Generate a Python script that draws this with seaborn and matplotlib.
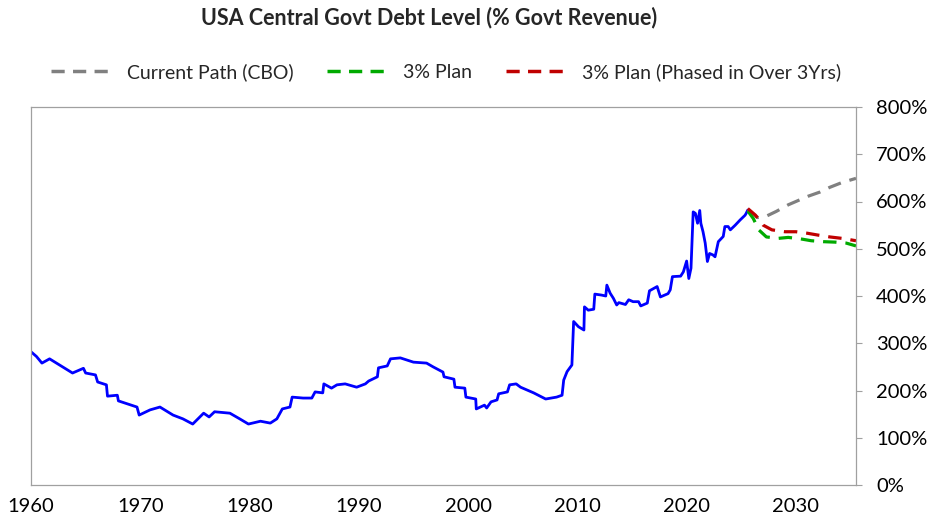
import matplotlib
matplotlib.use("Agg")
import matplotlib.pyplot as plt
from matplotlib.lines import Line2D
from matplotlib.ticker import FuncFormatter
import seaborn as sns

# Historical debt level, % of government revenue (fractional years)
hist_year = [1960.0, 1960.5, 1961.0, 1961.7, 1962.9, 1963.8, 1964.8, 1965.0, 1965.9, 1966.1,
             1966.9, 1967.0, 1967.9, 1968.0, 1969.7, 1969.9, 1970.9, 1971.8, 1973.0, 1973.9,
             1974.8, 1975.8, 1976.3, 1976.8, 1978.2, 1979.1, 1979.9, 1981.0, 1981.9, 1982.5,
             1983.0, 1983.7, 1983.9, 1984.9, 1985.7, 1986.0, 1986.7, 1986.8, 1987.5, 1988.0,
             1988.75, 1989.8, 1990.6, 1990.9, 1991.7, 1991.8, 1992.6, 1992.9, 1993.8, 1995.0,
             1996.2, 1996.8, 1997.7, 1997.8, 1998.7, 1998.8, 1999.7, 1999.8, 2000.7, 2000.75,
             2001.5, 2001.7, 2002.1, 2002.65, 2002.8, 2003.6, 2003.8, 2004.4, 2004.8, 2006.0,
             2007.1, 2008.1, 2008.6, 2008.75, 2009.06, 2009.5, 2009.66, 2010.1, 2010.6, 2010.65,
             2011.0, 2011.5, 2011.6, 2012.2, 2012.6, 2012.7, 2013.0, 2013.3, 2013.6, 2013.8,
             2014.4, 2014.7, 2015.1, 2015.6, 2015.8, 2016.4, 2016.6, 2017.3, 2017.6, 2018.3,
             2018.5, 2018.7, 2019.45, 2019.7, 2020.0, 2020.2, 2020.4, 2020.6, 2020.8, 2021.0,
             2021.2, 2021.3, 2021.5, 2021.7, 2021.9, 2022.1, 2022.4, 2022.6, 2022.9, 2023.35,
             2023.5, 2023.8, 2024.0, 2024.45, 2024.9, 2025.35, 2025.45, 2025.6]
hist_debt = [282, 272, 258, 267, 250, 237, 247, 237, 233, 218,
             212, 188, 190, 178, 165, 148, 159, 165, 148, 140,
             129, 152, 144, 155, 152, 140, 129, 135, 131, 140,
             161, 165, 186, 184, 184, 197, 195, 214, 205, 212,
             214, 207, 214, 220, 229, 248, 252, 267, 269, 260,
             258, 250, 239, 229, 224, 207, 205, 186, 182, 161,
             169, 163, 176, 180, 193, 197, 212, 214, 207, 195,
             182, 186, 190, 222, 240, 254, 346, 335, 328, 377,
             370, 372, 404, 402, 400, 423, 406, 395, 381, 386,
             382, 392, 388, 388, 379, 385, 411, 420, 398, 405,
             413, 441, 442, 451, 474, 437, 459, 578, 575, 554,
             581, 554, 536, 512, 473, 490, 487, 483, 515, 526,
             547, 547, 540, 550, 561, 571, 575, 582]

# Projection paths
cbo_year = [2025.6, 2026.5, 2027.3, 2028.2, 2029.3, 2030.2, 2031.1, 2032.2, 2033.1, 2034.2, 2035.5]
cbo_debt = [582, 566, 569, 579, 593, 602, 611, 620, 630, 640, 649]

plan_year = [2025.6, 2026.1, 2026.6, 2027.3, 2028.4, 2029.3, 2030.4, 2031.4, 2032.5, 2033.6, 2034.6, 2035.5]
plan_debt = [580, 564, 540, 525, 522, 524, 521, 517, 515, 514, 512, 506]

phased_year = [2025.6, 2026.3, 2027.0, 2027.8, 2029.0, 2030.0, 2031.0, 2032.0, 2033.1, 2034.2, 2035.5]
phased_debt = [585, 571, 550, 540, 536, 536, 533, 529, 525, 522, 517]

x_ticks = [1960, 1970, 1980, 1990, 2000, 2010, 2020, 2030]
y_ticks = [0, 100, 200, 300, 400, 500, 600, 700, 800]

series_labels = ["Current Path (CBO)", "3% Plan", "3% Plan (Phased in Over 3Yrs)"]
series_colors = ["#808080", "#00AA00", "#C00000"]

sns.set_style("white")
plt.rcParams["font.family"] = ["Lato", "DejaVu Sans"]

fig = plt.figure(figsize=(9.28, 5.23), dpi=100)
ax = fig.add_axes([31 / 928, 1 - 485 / 523, (856 - 31) / 928, (485 - 107) / 523])

dash = (0, (4.2, 2.8))
sns.lineplot(x=hist_year, y=hist_debt, ax=ax, color="#0000FF", linewidth=2.0,
             estimator=None, sort=False)
for xs, ys, c in [(cbo_year, cbo_debt, series_colors[0]),
                  (plan_year, plan_debt, series_colors[1]),
                  (phased_year, phased_debt, series_colors[2])]:
    sns.lineplot(x=xs, y=ys, ax=ax, color=c, linewidth=2.3, linestyle=dash,
                 estimator=None, sort=False)

ax.set_xlim(1960, 2035.5)
ax.set_ylim(0, 800)
ax.set_xticks(x_ticks)
ax.set_yticks(y_ticks)
ax.yaxis.tick_right()
ax.yaxis.set_major_formatter(FuncFormatter(lambda v, p: f"{v:.0f}%"))
ax.tick_params(axis="both", which="major", direction="out", length=4.5, width=0.8,
               color="#A0A0A0", labelsize=14.5, labelcolor="black", pad=5)
ax.tick_params(axis="y", pad=10)
ax.grid(False)
for side in ["left", "right", "top", "bottom"]:
    ax.spines[side].set_visible(True)
    ax.spines[side].set_color("#A0A0A0")
    ax.spines[side].set_linewidth(0.9)
ax.set_xlabel("")
ax.set_ylabel("")

handles = [Line2D([0], [0], color=c, linewidth=2.5, linestyle=(0, (3.8, 2.4)))
           for c in series_colors]
fig.legend(handles, series_labels, loc="center", bbox_to_anchor=(446 / 928, 1 - 72 / 523),
           ncol=3, frameon=False, fontsize=14, handlelength=3.1, handletextpad=0.8,
           columnspacing=1.75)

fig.text(429 / 928, 1 - 18 / 523, "USA Central Govt Debt Level (% Govt Revenue)",
         ha="center", va="center", fontsize=15.5, fontweight="bold")

fig.savefig("out.png", dpi=100)
